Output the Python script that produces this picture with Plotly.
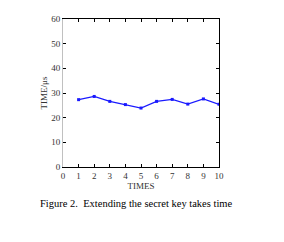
import plotly.graph_objects as go

times = [1, 2, 3, 4, 5, 6, 7, 8, 9, 10]
time_us = [27.3, 28.6, 26.6, 25.3, 23.9, 26.6, 27.4, 25.5, 27.6, 25.4]
x_ticks = [0, 1, 2, 3, 4, 5, 6, 7, 8, 9, 10]
y_ticks = [0, 10, 20, 30, 40, 50, 60]
caption = "Figure 2.  Extending the secret key takes time"

font = "Liberation Serif, Times New Roman, serif"

fig = go.Figure()
fig.add_trace(go.Scatter(
    x=times, y=time_us, mode="lines+markers",
    line=dict(color="#1a1aff", width=1.2),
    marker=dict(color="#1a1aff", size=3, symbol="square"),
    showlegend=False,
))
fig.add_trace(go.Scatter(x=times, y=time_us, yaxis="y2", mode="none",
                         showlegend=False, hoverinfo="skip"))

fig.update_layout(
    width=284, height=242,
    margin=dict(l=63, r=65, t=19, b=75),
    paper_bgcolor="white", plot_bgcolor="white",
    font=dict(family=font, size=9, color="#333333"),
    xaxis=dict(
        range=[0, 10], tickvals=x_ticks, ticktext=[str(v) for v in x_ticks],
        showgrid=False, zeroline=False,
        showline=True, linecolor="black", linewidth=1, mirror="ticks",
        ticks="inside", ticklen=3, tickcolor="black",
        title=dict(text="TIMES", font=dict(size=9, family=font), standoff=2),
    ),
    yaxis=dict(
        range=[0, 60], tickvals=y_ticks, ticktext=[str(v) for v in y_ticks],
        showgrid=False, zeroline=False,
        showline=True, linecolor="#c0c0c0", linewidth=1,
        ticks="inside", ticklen=3, tickcolor="black",
        title=dict(text="TIME/μs", font=dict(size=9, family=font), standoff=2),
    ),
    yaxis2=dict(
        range=[0, 60], tickvals=y_ticks, overlaying="y", side="right",
        showgrid=False, zeroline=False, showticklabels=False,
        showline=True, linecolor="black", linewidth=1,
        ticks="inside", ticklen=3, tickcolor="black",
    ),
    annotations=[dict(
        text=caption, x=0.5, y=203, xref="paper", yref="paper",
        showarrow=False, font=dict(size=10.5, family=font, color="black"),
    )],
)
plot_h = 242 - 19 - 75
fig.layout.annotations[0].y = (242 - 75 - 203) / plot_h
fig.layout.annotations[0].x = (136 - 63) / (284 - 63 - 65)
fig.layout.annotations[0].yanchor = "middle"
fig.layout.annotations[0].xanchor = "center"

fig.write_html("out.html")
